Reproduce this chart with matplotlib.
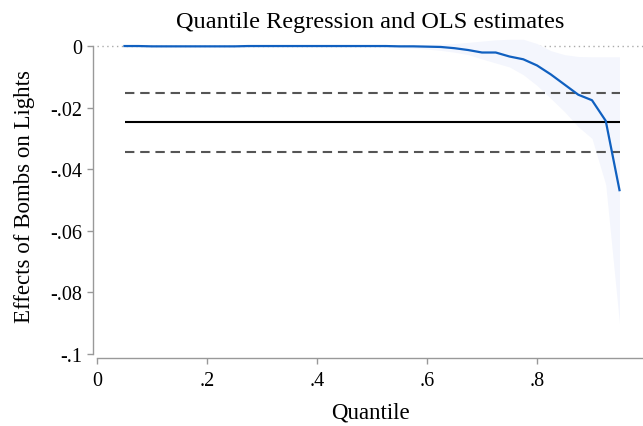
import matplotlib
matplotlib.use("Agg")
import matplotlib.pyplot as plt
from matplotlib.ticker import FixedLocator, FixedFormatter

plt.rcParams['font.family'] = ['Liberation Serif', 'DejaVu Serif']

# Quantile grid
quantiles = [0.05, 0.075, 0.10, 0.125, 0.15, 0.175, 0.20, 0.225, 0.25, 0.275,
             0.30, 0.325, 0.35, 0.375, 0.40, 0.425, 0.45, 0.475, 0.50, 0.525,
             0.55, 0.575, 0.60, 0.625, 0.65, 0.675, 0.70, 0.725, 0.75, 0.775,
             0.80, 0.825, 0.85, 0.875, 0.90, 0.925, 0.95]

# Quantile regression coefficients
qr_coef = [0.0, 0.0, -0.0001, -0.0001, -0.0001, -0.0001, -0.0001, -0.0001, -0.0001, 0.0,
           0.0, 0.0, 0.0, 0.0, 0.0, 0.0, 0.0, 0.0, 0.0, 0.0,
           -0.0001, -0.0001, -0.0002, -0.0003, -0.0007, -0.0013, -0.0021, -0.0021, -0.0034, -0.0043,
           -0.0063, -0.0092, -0.0125, -0.0158, -0.0176, -0.0243, -0.0468]

# Confidence band of the quantile regression
qr_upper = [0.0002, 0.0002, 0.0001, 0.0001, 0.0001, 0.0001, 0.0001, 0.0001, 0.0001, 0.0002,
            0.0002, 0.0002, 0.0002, 0.0002, 0.0002, 0.0002, 0.0002, 0.0002, 0.0002, 0.0002,
            0.0003, 0.0004, 0.0005, 0.0006, 0.0008, 0.0012, 0.0016, 0.0020, 0.0022, 0.0022,
            0.0008, -0.0015, -0.0028, -0.0034, -0.0035, -0.0035, -0.0035]
qr_lower = [-0.0002, -0.0002, -0.0003, -0.0003, -0.0003, -0.0003, -0.0003, -0.0003, -0.0003, -0.0002,
            -0.0002, -0.0002, -0.0002, -0.0002, -0.0002, -0.0002, -0.0002, -0.0002, -0.0002, -0.0003,
            -0.0005, -0.0007, -0.0010, -0.0014, -0.0020, -0.0028, -0.0042, -0.0055, -0.0068, -0.0093,
            -0.0128, -0.0170, -0.0213, -0.0262, -0.0300, -0.0450, -0.0900]

# OLS estimate and its confidence interval
ols_coef = -0.0248
ols_ci = [-0.0151, -0.0345]

x_ticks = [0, 0.2, 0.4, 0.6, 0.8]
x_tick_labels = ['0', '.2', '.4', '.6', '.8']
y_ticks = [0, -0.02, -0.04, -0.06, -0.08, -0.1]
y_tick_labels = ['0', '-.02', '-.04', '-.06', '-.08', '-.1']

W, H = 643, 427
fig = plt.figure(figsize=(W / 100, H / 100), dpi=100)
ax = fig.add_axes([97 / W, (H - 355) / H, 546 / W, (355 - 37.8) / H])
ax.set_xlim(0, 546 / 550)
ax.set_ylim(-0.1, 0.003)

ax.axhline(0, color='#aaaaaa', lw=1.0, ls=(0, (1, 2.5)), zorder=1)
ax.fill_between(quantiles, qr_lower, qr_upper, color='#f4f6fd', lw=0, zorder=2)
ax.hlines(ols_ci, quantiles[0], quantiles[-1], colors='#555555', lw=1.5,
          linestyles=(0, (4.5, 2.8)), zorder=3)
ax.hlines(ols_coef, quantiles[0], quantiles[-1], colors='black', lw=1.5, zorder=3)
ax.plot(quantiles, qr_coef, color='#1060c0', lw=1.6, zorder=4)

for side in ('top', 'right'):
    ax.spines[side].set_visible(False)
ax.spines['left'].set_position(('outward', 3))
ax.spines['bottom'].set_position(('outward', 3))
ax.spines['left'].set_bounds(-0.1, 0)
for side in ('left', 'bottom'):
    ax.spines[side].set_color('#999999')
    ax.spines[side].set_linewidth(1.0)

ax.xaxis.set_major_locator(FixedLocator(x_ticks))
ax.xaxis.set_major_formatter(FixedFormatter(x_tick_labels))
ax.yaxis.set_major_locator(FixedLocator(y_ticks))
ax.yaxis.set_major_formatter(FixedFormatter(y_tick_labels))
ax.tick_params(axis='both', direction='out', length=4.5, width=1.0, color='#999999',
               labelsize=14.5, labelcolor='black', pad=3)
ax.tick_params(axis='x', pad=5)

ax.set_title('Quantile Regression and OLS estimates', fontsize=17.5, pad=7)
ax.set_xlabel('Quantile', fontsize=16.5, labelpad=8)
ax.set_ylabel('Effects of Bombs on Lights', fontsize=16.5, labelpad=11)

fig.savefig('out.png', dpi=100)
